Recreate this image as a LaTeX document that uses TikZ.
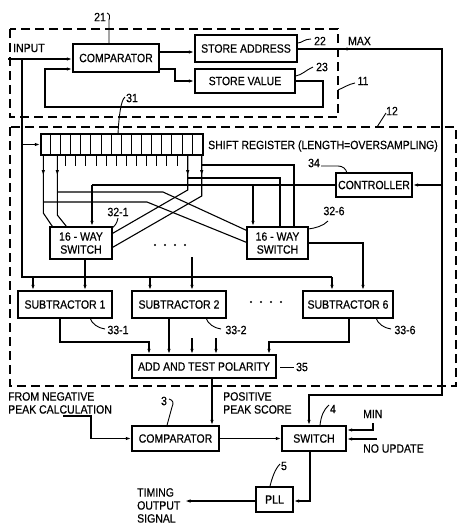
\documentclass[tikz,border=0pt]{standalone}
\usepackage{fontspec}
\setmainfont{Liberation Sans}[FakeStretch=0.875,FakeBold=0.5]
\usetikzlibrary{arrows.meta,calc}
\begin{document}
\begin{tikzpicture}[x=1pt,y=-1pt,
  every node/.style={font=\fontsize{12}{13}\selectfont, inner sep=0pt},
  blk/.style={draw, line width=1.4pt, inner sep=0pt, align=center},
  ln/.style={line width=1.1pt},
  arr/.style={line width=1.1pt, -{Latex[length=5.5pt,width=3.4pt]}},
  dashbox/.style={line width=1.2pt, dash pattern=on 9pt off 5pt},
  lead/.style={line width=0.9pt}]
\useasboundingbox (0,0) rectangle (474,531);

% dashed groups
\draw[dashbox] (10,29) rectangle (338,117);
\draw[dashbox] (10,127) rectangle (456,386);

% blocks
\node[blk, minimum width=86pt, minimum height=28pt] (cmpA) at (116,58) {COMPARATOR};
\node[blk, minimum width=102pt, minimum height=27pt] (sadr) at (246,48.5) {STORE ADDRESS};
\node[blk, minimum width=100pt, minimum height=24pt] (sval) at (245,81) {STORE VALUE};
\node[blk, minimum width=162pt, minimum height=21pt] (sr) at (122,144.5) {};
\node[blk, minimum width=76pt, minimum height=24pt] (ctrl) at (374,185) {CONTROLLER};
\node[blk, minimum width=62pt, minimum height=32pt] (swA) at (81,243) {16 - WAY\\SWITCH};
\node[blk, minimum width=61pt, minimum height=32pt] (swF) at (277.5,243) {16 - WAY\\SWITCH};
\node[blk, minimum width=94pt, minimum height=27pt] (subA) at (65,304.5) {SUBTRACTOR 1};
\node[blk, minimum width=94pt, minimum height=27pt] (subB) at (179,304.5) {SUBTRACTOR 2};
\node[blk, minimum width=90pt, minimum height=27pt] (subF) at (348,304.5) {SUBTRACTOR 6};
\node[blk, minimum width=144pt, minimum height=23pt] (addt) at (204,366.5) {ADD AND TEST POLARITY};
\node[blk, minimum width=87pt, minimum height=25pt] (cmpB) at (175.5,438.5) {COMPARATOR};
\node[blk, minimum width=64pt, minimum height=25pt] (swch) at (314,438.5) {SWITCH};
\node[blk, minimum width=37pt, minimum height=25pt] (pll) at (274.5,499.5) {PLL};

% shift register cells and taps
\foreach \i in {1,...,15}
  \draw[line width=0.9pt] ($(sr.north west)+(\i*10.125,0)$) -- ($(sr.south west)+(\i*10.125,0)$);
\foreach \i in {3,...,14}
  \draw[line width=0.9pt] ($(sr.south west)+({(\i-0.5)*10.125},0)$) -- ++(0,10);

% texts
\node[anchor=west] (tin) at (13,48) {INPUT};
\node (tmax) at (359.5,41) {MAX};
\node[anchor=west] (tsr) at (208,146) {SHIFT REGISTER (LENGTH=OVERSAMPLING)};
\node[anchor=north west, align=left] (tneg) at (8,392) {FROM NEGATIVE\\PEAK CALCULATION};
\node[anchor=north west, align=left] (tpos) at (223,392) {POSITIVE\\PEAK SCORE};
\node[anchor=west] (tmin) at (363,414) {MIN};
\node[anchor=west] (tnou) at (363,448.5) {NO UPDATE};
\node[anchor=north west, align=left] (ttim) at (137,488) {TIMING\\OUTPUT\\SIGNAL};

\foreach \x in {155,165,175,185} \fill (\x,245) circle (1.2pt);
\foreach \x in {251,261,271,281} \fill (\x,302) circle (1.2pt);

% reference labels
\node (l21) at (100,17) {21};
\node (l22) at (320,41) {22};
\node (l23) at (322,67) {23};
\node (l11) at (363,81) {11};
\node (l12) at (392,111) {12};
\node (l31) at (132,98) {31};
\node (l34) at (314,163) {34};
\node (l321) at (118,212) {32-1};
\node (l326) at (334,211) {32-6};
\node (l331) at (118,330) {33-1};
\node (l332) at (236,330) {33-2};
\node (l336) at (405,330) {33-6};
\node (l35) at (302,367) {35};
\node (l3) at (164,401) {3};
\node (l4) at (333,409) {4};
\node (l5) at (284,466) {5};

% leaders
\draw[lead] (107,13) .. controls (110,14) and (110,17) .. (109,20) -- (109,0 |- cmpA.north);
\draw[lead] (sadr.east |- 0,43) .. controls (302,43) and (304,39) .. (311,39);
\draw[lead] (sval.east |- 0,76) .. controls (302,75) and (306,70) .. (313,67);
\draw[lead] (338,90) .. controls (343,88) and (349,84) .. (355,83);
\draw[lead] (377,127) -- (386,113);
\draw[lead] (125,97) .. controls (121,100) and (119,115) .. (118,134);
\draw[lead] (321,166) -- (338,166) .. controls (343,166) and (346,169) .. (347,173);
\draw[lead] (328,221) .. controls (323,226) and (316,228) .. (308,229);
\draw[lead] (118,218) .. controls (117,223) and (115,226) .. (112,228);
\draw[lead] (90,318) .. controls (92,324) and (98,328) .. (105,329);
\draw[lead] (206,318) .. controls (208,324) and (214,328) .. (221,329);
\draw[lead] (376,318) .. controls (378,324) and (384,328) .. (391,329);
\draw[lead] (280,367) -- (294,367);
\draw[lead] (169,399) .. controls (173,400) and (174,403) .. (172,407) -- (167,0 |- cmpB.north);
\draw[lead] (329,405) .. controls (324,409) and (321,416) .. (320,0 |- swch.north);
\draw[lead] (280,464) .. controls (275,469) and (272,478) .. (270,0 |- pll.north);

% input and bus
\coordinate (inS) at (8,59);
\coordinate (jIn) at (22,59);
\coordinate (bus) at (22,277);
\draw[arr] (inS) -- (cmpA.west |- jIn);
\draw[ln] (jIn) -- (bus) -- (332,277);
\draw[arr] (22,0 |- sr.west) -- (sr.west);
\draw[arr] (33,277) -- (33,277 |- subA.north);
\draw[arr] (150,277) -- (150,277 |- subB.north);
\draw[arr] (332,277) -- (332,277 |- subF.north);

% top group connections
\draw[arr] (sval.east) -- (323,81) -- (323,107) -- (45,107) -- (45,69) -- (cmpA.west |- 45,69);
\draw[arr] (cmpA.east |- 0,52) -- (sadr.west |- 0,52);
\draw[arr] (cmpA.east |- 0,69) -- (175,69) -- (175,81) -- (sval.west);
\draw[arr] (sadr.east |- 0,49) -- (352,49);
\draw[arr] (348,49) -- (442,49) -- (442,395) -- (309,395) -- (309,395 |- swch.north);
\draw[arr] (442,0 |- ctrl.east) -- (ctrl.east);

% controller outputs
\draw[ln] (ctrl.west) -- (92,0 |- ctrl.west);
\draw[arr] (92,0 |- ctrl.west) -- (92,0 |- swA.north);
\draw[arr] (253,0 |- ctrl.west) -- (253,0 |- swF.north);

% shift register outputs
\coordinate (o1) at ($(sr.south west)+(3,0)$);
\coordinate (o2) at ($(sr.south west)+(17,0)$);
\coordinate (o15) at ($(sr.south east)+(-16,0)$);
\coordinate (o16) at ($(sr.south east)+(-2,0)$);
\foreach \o in {o1,o2,o15,o16} \draw[arr] (\o) -- ++(0,20);
\draw[ln] (o1) -- (o1 |- 0,213) -- ($(swA.north west)+(3,0)$);
\draw[ln] (o1 |- 0,202) -- (147,202) -- ($(swF.north west)+(0,16)$);
\draw[ln] (o2) -- (o2 |- 0,215) -- ($(swA.north west)+(17,0)$);
\draw[ln] (o2 |- 0,192) -- (163,192) -- ($(swF.north west)+(0,4)$);
\draw[ln] (o15) -- (o15 |- 0,190) -- ($(swA.north east)+(0,7)$);
\draw[ln] (o15 |- 0,178) -- (280,178) -- (280,0 |- swF.north);
\draw[ln] (o16) -- (o16 |- 0,196) -- ($(swA.north east)+(0,21)$);
\draw[ln] (o16 |- 0,165) -- (294,165) -- (294,0 |- swF.north);

% switch outputs
\coordinate (swAo) at ($(swA.south)+(4,0)$);
\draw[arr] (swAo) -- (swAo |- subA.north);
\draw[arr] (192,257) -- (192,257 |- subB.north);
\draw[arr] (swF.east) -- (363,0 |- swF.east) -- (363,0 |- subF.north);

% subtractors to adder
\draw[arr] (60,0 |- subA.south) -- (60,342) -- (149,342) -- (149,0 |- addt.north);
\draw[arr] (169,0 |- subB.south) -- (169,0 |- addt.north);
\draw[arr] (192,338) -- (192,0 |- addt.north);
\draw[arr] (216,338) -- (216,0 |- addt.north);
\draw[arr] (349,0 |- subF.south) -- (349,342) -- (269,342) -- (269,0 |- addt.north);

% bottom section
\draw[arr] (212,0 |- addt.south) -- (212,0 |- cmpB.north);
\draw[arr] (63,416) -- (91,416) -- (91,0 |- cmpB.west) -- (cmpB.west);
\draw[arr] (cmpB.east) -- (swch.west);
\draw[arr] (373,423) -- (373,430) -- (swch.east |- 0,430);
\draw[arr] (377,439) -- (swch.east |- 0,439);
\draw[arr] (310,0 |- swch.south) -- (310,501) -- (pll.east |- 0,501);
\draw[arr] (pll.west |- 0,501) -- (185,501);
\end{tikzpicture}
\end{document}
